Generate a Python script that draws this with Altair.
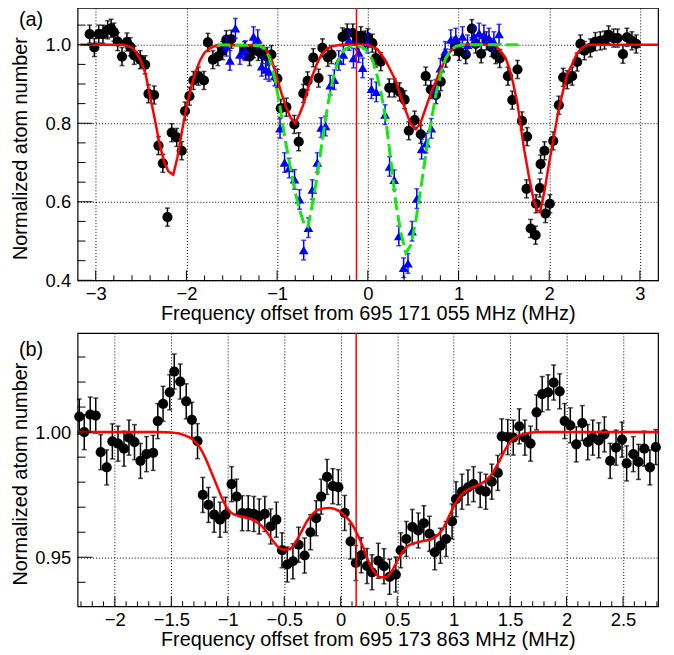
import altair as alt
import pandas as pd

# ---------------- Panel (a) data ----------------
a_black_x = [-3.067, -3.015, -2.967, -2.92, -2.868, -2.83, -2.80, -2.758, -2.71, -2.656, -2.62, -2.576,
             -2.51, -2.455, -2.418, -2.356, -2.308, -2.26, -2.209, -2.162, -2.107, -2.052, -2.015,
             -1.967, -1.923, -1.868, -1.807, -1.763, -1.708, -1.653, -1.60, -1.56, -1.505, -1.36,
             -1.304, -1.26, -1.209, -1.16, -1.11, -1.063, -0.997, -0.960, -0.898, -0.810, -0.762,
             -0.711, -0.664, -0.601, -0.543, -0.50, -0.44, -0.40, -0.279, -0.227, -0.165, -0.118,
             -0.077, -0.03, 0.0, 0.05, 0.088, 0.143, 0.236, 0.291, 0.35, 0.406, 0.452, 0.516, 0.584,
             0.638, 0.694, 0.752, 0.804, 0.86, 0.96, 1.007, 1.08, 1.147, 1.19, 1.25, 1.308, 1.366,
             1.41, 1.455, 1.545, 1.593, 1.65, 1.70, 1.756, 1.75, 1.795, 1.85, 1.855, 1.897, 1.905,
             1.948, 1.959, 2.007, 2.044, 2.106, 2.154, 2.198, 2.253, 2.308, 2.344, 2.388, 2.454,
             2.509, 2.564, 2.61, 2.655, 2.71, 2.754, 2.813, 2.857, 2.912, 2.959]
a_black_y = [1.027, 0.993, 1.027, 1.027, 1.038, 1.042, 1.032, 1.008, 0.970, 1.007, 0.995, 0.973,
             0.962, 0.949, 0.875, 0.872, 0.743, 0.698, 0.561, 0.776, 0.764, 0.730, 0.831,
             0.869, 0.909, 0.920, 0.909, 1.006, 0.962, 0.970, 0.985, 1.013, 1.014, 0.985,
             0.970, 0.990, 0.983, 0.975, 0.970, 0.975, 0.914, 0.838, 0.841, 0.797, 0.753,
             0.876, 0.908, 0.967, 0.915, 0.992, 0.968, 0.975, 1.020, 1.030, 1.030, 1.010,
             1.023, 1.012, 1.018, 1.004, 0.966, 0.957, 0.890, 0.890, 0.880, 0.860, 0.781, 0.808, 0.772,
             0.920, 0.886, 0.873, 0.906, 0.966, 0.996, 0.983, 0.975, 1.041, 1.002, 0.977, 1.010, 0.993,
             0.975, 0.965, 0.920, 0.859, 0.937, 0.806, 0.766, 0.633, 0.532, 0.515, 0.595, 0.635, 0.696,
             0.730, 0.570, 0.595, 0.755, 0.846, 0.917, 0.911, 0.920, 0.956, 1.002, 0.985, 0.992,
             1.008, 1.010, 1.012, 1.025, 1.017, 1.017, 0.976, 1.019, 1.010, 1.002]
a_black_err = 0.023

a_blue_x = [-1.56, -1.52, -1.46, -1.41, -1.35, -1.26, -1.213, -1.17, -1.125, -1.09, -1.026, -0.968,
            -0.918, -0.866, -0.808, -0.753, -0.707, -0.655, -0.612, -0.557, -0.515, -0.466, -0.415,
            -0.37, -0.32, -0.27, -0.205, -0.158, -0.10, -0.057, 0.0, 0.04, 0.093, 0.19, 0.24, 0.291,
            0.342, 0.395, 0.443, 0.488, 0.54, 0.593, 0.642, 0.70, 0.751, 0.80, 0.853, 0.915, 0.97,
            1.044, 1.10, 1.17, 1.227, 1.28, 1.336, 1.39, 1.447]
a_blue_y = [0.996, 0.960, 1.042, 0.975, 0.985, 1.021, 1.013, 0.945, 0.937, 0.932, 0.920, 0.787,
            0.700, 0.686, 0.657, 0.606, 0.477, 0.534, 0.631, 0.700, 0.789, 0.793, 0.897,
            0.911, 0.960, 0.975, 1.011, 0.966, 0.980, 0.941, 1.004, 0.888, 0.880, 0.822, 0.690, 0.656,
            0.513, 0.432, 0.443, 0.525, 0.608, 0.734, 0.749, 0.787, 0.886, 0.940, 0.983, 1.013, 1.017,
            1.021, 1.000, 1.021, 1.030, 1.025, 1.017, 1.008, 1.027]
a_blue_err = 0.025

a_red_x = [-3.17, -2.70, -2.60, -2.55, -2.50, -2.45, -2.40, -2.35, -2.30, -2.25, -2.20, -2.145,
           -2.10, -2.05, -2.00, -1.95, -1.90, -1.85, -1.80, -1.74, -1.67, -1.20, -1.14, -1.10,
           -1.06, -1.00, -0.95, -0.90, -0.85, -0.80, -0.75, -0.71, -0.66, -0.62, -0.56, -0.51,
           -0.45, -0.40, -0.30, 0.0, 0.10, 0.15, 0.20, 0.25, 0.31, 0.36, 0.42, 0.47, 0.53, 0.58,
           0.64, 0.70, 0.75, 0.80, 0.86, 0.92, 0.97, 1.02, 1.40, 1.46, 1.52, 1.56, 1.60, 1.65,
           1.72, 1.78, 1.83, 1.87, 1.90, 1.95, 2.00, 2.05, 2.10, 2.15, 2.20, 2.25, 2.30, 2.35,
           2.42, 3.20]
a_red_y = [1.000, 1.000, 0.993, 0.980, 0.958, 0.925, 0.868, 0.812, 0.752, 0.705, 0.678, 0.669,
           0.712, 0.778, 0.841, 0.890, 0.930, 0.960, 0.980, 0.991, 0.999, 0.999, 0.992, 0.978,
           0.962, 0.915, 0.875, 0.840, 0.814, 0.800, 0.825, 0.848, 0.888, 0.916, 0.952, 0.975,
           0.990, 0.996, 1.000, 1.000, 0.990, 0.975, 0.958, 0.935, 0.907, 0.870, 0.831, 0.800, 0.785, 0.800,
           0.840, 0.880, 0.907, 0.935, 0.966, 0.985, 0.996, 1.000, 1.000, 0.985, 0.966, 0.940, 0.905, 0.850,
           0.738, 0.660, 0.603, 0.578, 0.574, 0.630, 0.700, 0.764, 0.830, 0.880, 0.925, 0.949, 0.975, 0.990,
           1.000, 1.000]

a_green_x = [-1.66, -1.20, -1.136, -1.09, -1.026, -0.97, -0.916, -0.86, -0.806, -0.75, -0.697,
             -0.66, -0.623, -0.585, -0.549, -0.50, -0.44, -0.385, -0.33, -0.27, -0.22, -0.147,
             -0.07, 0.0, 0.05, 0.091, 0.15, 0.20, 0.255, 0.31, 0.365, 0.42, 0.475, 0.53, 0.585,
             0.64, 0.695, 0.75, 0.805, 0.86, 0.915, 0.97, 1.05, 1.67]
a_green_y = [1.000, 0.998, 0.989, 0.970, 0.916, 0.845, 0.764, 0.695, 0.629, 0.578, 0.540,
             0.536, 0.578, 0.628, 0.679, 0.760, 0.848, 0.912, 0.958, 0.985, 0.993, 0.998,
             0.995, 0.983, 0.962, 0.932, 0.874, 0.806, 0.703, 0.595, 0.520, 0.470, 0.490, 0.553, 0.635,
             0.722, 0.800, 0.873, 0.925, 0.966, 0.986, 0.996, 1.000, 1.000]

a_marker = -0.125

# ---------------- Panel (b) data ----------------
b_x = [-2.315, -2.271, -2.218, -2.169, -2.125, -2.072, -2.022, -1.972, -1.919, -1.875, -1.826,
       -1.773, -1.72, -1.661, -1.62, -1.573, -1.514, -1.474, -1.421, -1.368, -1.318, -1.268,
       -1.221, -1.171, -1.121, -1.069, -1.020, -0.966, -0.922, -0.872, -0.819, -0.769, -0.722,
       -0.672, -0.62, -0.57, -0.52, -0.473, -0.423, -0.373, -0.32, -0.268, -0.217, -0.173,
       -0.121, -0.07, -0.021, 0.035, 0.087, 0.134, 0.182, 0.233, 0.277, 0.333, 0.383, 0.433,
       0.488, 0.531, 0.581, 0.634, 0.687, 0.736, 0.786, 0.833, 0.883, 0.933, 0.986, 1.021,
       1.074, 1.127, 1.176, 1.235, 1.285, 1.338, 1.391, 1.426, 1.479, 1.528, 1.581, 1.631,
       1.681, 1.734, 1.784, 1.836, 1.886, 1.939, 1.983, 2.033, 2.086, 2.139, 2.188, 2.232,
       2.285, 2.335, 2.386, 2.438, 2.491, 2.532, 2.591, 2.637, 2.688, 2.738, 2.79]
b_y = [1.0062, 1.0000, 1.0070, 1.0066, 0.9920, 0.9859, 0.9963, 0.9954, 0.9934, 0.9978, 0.9960,
       0.9885, 0.9912, 0.9917, 1.0044, 1.0113, 1.0159, 1.0242, 1.0202, 1.0123, 1.0049, 0.9964,
       0.9749, 0.9709, 0.9670, 0.9650, 0.9670, 0.9792, 0.9742, 0.9676, 0.9676, 0.9673, 0.9663,
       0.9673, 0.9623, 0.9650, 0.9528, 0.9471, 0.9484, 0.9550, 0.9507, 0.9600, 0.9656, 0.9742,
       0.9821, 0.9784, 0.9780, 0.9677, 0.9563, 0.9477, 0.9508, 0.9465, 0.9440, 0.9486, 0.9464, 0.9422,
       0.9431, 0.9528, 0.9573, 0.9621, 0.9607, 0.9636, 0.9594, 0.9520, 0.9546, 0.9573, 0.9643, 0.9732,
       0.9762, 0.9779, 0.9792, 0.9769, 0.9762, 0.9802, 0.9837, 0.9983, 0.9980, 0.9978, 1.0023, 0.9978,
       0.9954, 1.0079, 1.0152, 1.0159, 1.0198, 1.0163, 1.0044, 1.0027, 0.9951, 1.0036, 0.9960, 0.9978,
       0.9967, 0.9991, 0.9885, 0.9938, 0.9970, 0.9875, 0.9912, 0.9881, 0.9934, 0.9859, 0.9940]
b_err = 0.0070

b_red_x = [-2.32, -1.60, -1.50, -1.40, -1.30, -1.25, -1.20, -1.15, -1.10, -1.05, -1.00, -0.95,
           -0.90, -0.80, -0.70, -0.65, -0.60, -0.55, -0.50, -0.45, -0.40, -0.35, -0.30, -0.25,
           -0.20, -0.10, 0.00, 0.05, 0.10, 0.15, 0.20, 0.25, 0.30, 0.35, 0.40, 0.45, 0.50, 0.55,
           0.60, 0.70, 0.80, 0.85, 0.90, 0.95, 1.00, 1.05, 1.10, 1.20, 1.30, 1.35, 1.40, 1.45,
           1.50, 1.60, 1.75, 2.81]
b_red_y = [1.0000, 1.0000, 0.9998, 0.9990, 0.9966, 0.9940, 0.9898, 0.9845, 0.9790, 0.9735, 0.9692, 0.9672,
           0.9665, 0.9653, 0.9625, 0.9598, 0.9565, 0.9540, 0.9530, 0.9533, 0.9560, 0.9600, 0.9643, 0.9672,
           0.9690, 0.9697, 0.9680, 0.9660, 0.9632, 0.9590, 0.9538, 0.9480, 0.9440, 0.9420, 0.9420, 0.9442,
           0.9485, 0.9522, 0.9547, 0.9562, 0.9572, 0.9585, 0.9610, 0.9655, 0.9702, 0.9738, 0.9762, 0.9785,
           0.9812, 0.9840, 0.9880, 0.9925, 0.9960, 0.9990, 1.0000, 1.0000]
b_marker = 0.137

# ---------------- Axis text ----------------
a_xtitle = "Frequency offset from 695 171 055 MHz (MHz)"
b_xtitle = "Frequency offset from 695 173 863 MHz (MHz)"
ytitle = "Normalized atom number"
a_label = "(a)"
b_label = "(b)"

a_xmajor = [-3, -2, -1, 0, 1, 2, 3]
a_xminor = [round(-3.0 + 0.2 * i, 1) for i in range(31)]
a_ymajor = [0.4, 0.6, 0.8, 1.0]
a_yminor = [round(0.4 + 0.05 * i, 2) for i in range(14)]
b_xmajor = [-2, -1.5, -1, -0.5, 0, 0.5, 1, 1.5, 2, 2.5]
b_xminor = [round(-2.3 + 0.1 * i, 1) for i in range(52)]
b_ymajor = [0.95, 1.0]
b_yminor = [round(0.94 + 0.01 * i, 2) for i in range(10)]

FONT = "Liberation Sans"
W = 584
HA = 274
HB = 275
RED = "#ff0000"
BLUE = "#0000ff"
GREEN = "#12e812"


def panel(xdom, ydom, H, xtitle, xmajor, xminor, ymajor, yminor, xfmt, yfmt,
          series, curves, marker, label):
    xaxis = alt.Axis(title=xtitle, values=xmajor, format=xfmt, grid=True,
                     labelPadding=4, titlePadding=1, labelFlush=False)
    yaxis = alt.Axis(title=ytitle, values=ymajor, format=yfmt, grid=True,
                     labelPadding=7, titleX=-57, titleY=H / 2 + 4,
                     titleBaseline="middle")
    xs = alt.Scale(domain=xdom, nice=False, zero=False)
    ys = alt.Scale(domain=ydom, nice=False, zero=False)

    def X(f="x"):
        return alt.X(f + ":Q", scale=xs, axis=xaxis)

    def Y(f="y"):
        return alt.Y(f + ":Q", scale=ys, axis=yaxis)

    layers = []
    for (sx, sy, err, color, shape, size) in series:
        df = pd.DataFrame({"x": sx, "y": sy,
                           "lo": [v - err for v in sy], "hi": [v + err for v in sy]})
        base = alt.Chart(df)
        layers.append(base.mark_rule(color=color, strokeWidth=1.5).encode(x=X(), y=Y("lo"), y2="hi:Q"))
        layers.append(base.mark_tick(color=color, orient="horizontal", size=5, thickness=1.5)
                      .encode(x=X(), y=Y("hi")))
        layers.append(base.mark_tick(color=color, orient="horizontal", size=5, thickness=1.5)
                      .encode(x=X(), y=Y("lo")))
        layers.append(base.mark_point(shape=shape, filled=True, size=size, color=color, opacity=1)
                      .encode(x=X(), y=Y()))
    for (cx, cy, color, width, dash, interp) in curves:
        df = pd.DataFrame({"x": cx, "y": cy})
        kw = dict(color=color, strokeWidth=width, clip=True, interpolate=interp)
        if dash:
            kw["strokeDash"] = dash
        layers.append(alt.Chart(df).mark_line(**kw).encode(x=X(), y=Y()))
    layers.append(alt.Chart(pd.DataFrame({"x": [marker]})).mark_rule(color=RED, strokeWidth=1.5)
                  .encode(x=X()))
    # inside ticks

    def is_major(v, majors):
        return any(abs(v - m) < 1e-6 for m in majors)
    xt = pd.DataFrame({"x": xminor, "len": [10 if is_major(v, xmajor) else 5 for v in xminor]})
    yt = pd.DataFrame({"y": yminor, "len": [15 if is_major(v, ymajor) else 8 for v in yminor]})
    xt_major = xt[xt["len"] == 10]
    xt_minor = xt[xt["len"] == 5]
    yt_major = yt[yt["len"] == 15]
    yt_minor = yt[yt["len"] == 8]
    layers.append(alt.Chart(xt_major).mark_rule(color="black", strokeWidth=1)
                  .encode(x=X(), y=alt.value(H), y2=alt.value(H - 10)))
    layers.append(alt.Chart(xt_minor).mark_rule(color="black", strokeWidth=1)
                  .encode(x=X(), y=alt.value(H), y2=alt.value(H - 5)))
    layers.append(alt.Chart(yt_major).mark_rule(color="black", strokeWidth=1)
                  .encode(y=Y(), x=alt.value(0), x2=alt.value(15)))
    layers.append(alt.Chart(yt_minor).mark_rule(color="black", strokeWidth=1)
                  .encode(y=Y(), x=alt.value(0), x2=alt.value(8)))
    layers.append(alt.Chart(pd.DataFrame({"t": [label[0]]})).mark_text(
        align="left", baseline="middle", fontSize=20, font=FONT, color="black")
        .encode(text="t:N", x=alt.value(-59), y=alt.value(label[1])))
    return alt.layer(*layers).properties(width=W, height=H)


pa = panel([-3.2, 3.2], [0.4, 1.0937], HA, a_xtitle, a_xmajor, a_xminor, a_ymajor, a_yminor,
           "d", ".1f",
           [(a_black_x, a_black_y, a_black_err, "black", "circle", 105),
            (a_blue_x, a_blue_y, a_blue_err, BLUE, "triangle-up", 95)],
           [(a_red_x, a_red_y, RED, 2.5, None, "linear"),
            (a_green_x, a_green_y, GREEN, 3, [13, 5], "linear")],
           a_marker, (a_label, 12))

pb = panel([-2.33, 2.81], [0.9304, 1.0396], HB, b_xtitle, b_xmajor, b_xminor, b_ymajor, b_yminor,
           "", ".2f",
           [(b_x, b_y, b_err, "black", "circle", 105)],
           [(b_red_x, b_red_y, RED, 2.5, None, "monotone")],
           b_marker, (b_label, 17))

chart = alt.vconcat(pa, pb, spacing=6).properties(
    padding={"left": 2, "top": -4, "right": 4, "bottom": 0}
).configure(font=FONT).configure_view(
    stroke="black", strokeWidth=1.2
).configure_axis(
    labelFont=FONT, titleFont=FONT, labelFontSize=18.5, titleFontSize=20,
    labelColor="black", titleColor="black", titleFontWeight="normal",
    domain=False, ticks=False, tickSize=0,
    gridColor="black", gridDash=[1, 2], gridOpacity=1, gridWidth=1
)

chart.save("out.html", embed_options={"renderer": "svg", "actions": False})
